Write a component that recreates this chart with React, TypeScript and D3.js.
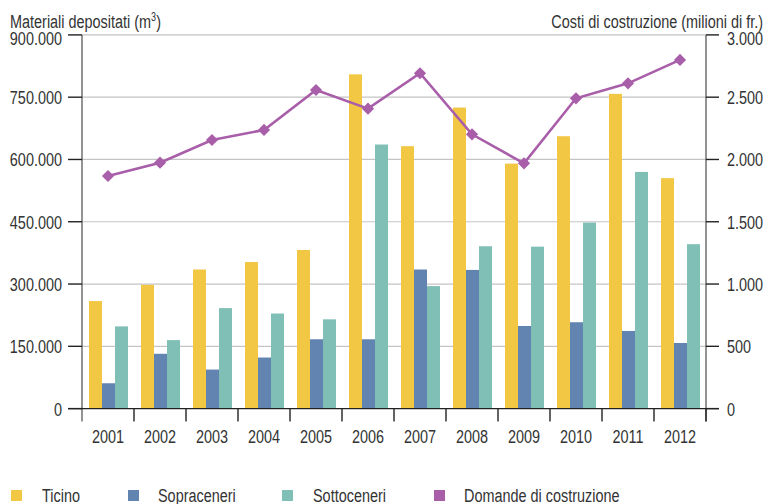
import React from "react";
import * as d3 from "d3";

const years = ["2001","2002","2003","2004","2005","2006","2007","2008","2009","2010","2011","2012"];
const ticino = [259000, 298000, 335000, 353000, 382000, 805000, 632000, 725000, 590000, 656000, 758000, 555000];
const sopraceneri = [61000, 132000, 94000, 123000, 167000, 167000, 335000, 334000, 199000, 208000, 187000, 158000];
const sottoceneri = [198000, 165000, 242000, 229000, 215000, 636000, 295000, 391000, 390000, 448000, 570000, 396000];
const domande = [1867, 1974, 2156, 2237, 2558, 2408, 2692, 2202, 1969, 2491, 2611, 2799];
const leftTicks = [0, 150000, 300000, 450000, 600000, 750000, 900000];
const rightTicks = [0, 500, 1000, 1500, 2000, 2500, 3000];
const seriesNames = ["Ticino", "Sopraceneri", "Sottoceneri", "Domande di costruzione"];
const colors = ["#F2C744", "#6284B0", "#80BFB6", "#A85EA8"];

const FONT = "'Liberation Sans', Arial, sans-serif";
const FS = 19;
const SX = 0.76;
const fmt = (v: number) => d3.format(",")(v).replace(/,/g, ".");

function T(props: { x: number; y: number; anchor?: string; children: React.ReactNode }) {
  return (
    <text
      transform={`translate(${props.x},${props.y}) scale(${SX},1)`}
      textAnchor={props.anchor || "start"}
      fontSize={FS}
      fill="#333"
    >
      {props.children}
    </text>
  );
}

export default function App() {
  const W = 768, H = 504;
  const left = 82, right = 706, top = 34.9, bottom = 408.6;
  const x = d3.scaleBand<string>().domain(years).range([left, right]).paddingInner(0).paddingOuter(0);
  const yL = d3.scaleLinear().domain([0, 900000]).range([bottom, top]);
  const yR = d3.scaleLinear().domain([0, 3000]).range([bottom, top]);
  const bw = x.bandwidth();
  const barW = 13;
  const off = 7;
  const bars = [ticino, sopraceneri, sottoceneri];
  const line = d3.line<number>()
    .x((_, i) => (x(years[i]) as number) + bw / 2)
    .y((d) => yR(d));
  const diamond = d3.symbol().type(d3.symbolSquare).size(74)() as string;
  const legendX = [11, 128, 282, 434];
  const legendTX = [42, 158, 313, 464];
  return (
    <svg width={W} height={H} style={{ position: "absolute", left: 0, top: 0, background: "#fff" }} fontFamily={FONT}>
      {leftTicks.slice(1).map((t) => (
        <line key={"g" + t} x1={left} x2={right} y1={yL(t)} y2={yL(t)} stroke="#c4c4c4" strokeWidth={1.2} />
      ))}
      {bars.map((s, si) =>
        s.map((v, i) => (
          <rect key={si + "-" + i} x={(x(years[i]) as number) + off + si * barW} y={yL(v)} width={barW} height={bottom - yL(v)} fill={colors[si]} />
        ))
      )}
      <path d={line(domande) as string} fill="none" stroke={colors[3]} strokeWidth={2.6} />
      {domande.map((v, i) => (
        <path key={"d" + i} d={diamond} transform={`translate(${(x(years[i]) as number) + bw / 2},${yR(v)}) rotate(45)`} fill={colors[3]} />
      ))}
      <line x1={left} x2={left} y1={top} y2={bottom + 13} stroke="#666" strokeWidth={1.4} />
      <line x1={right} x2={right} y1={top} y2={bottom + 13} stroke="#666" strokeWidth={1.4} />
      <line x1={68} x2={719} y1={bottom} y2={bottom} stroke="#222" strokeWidth={1.4} />
      {leftTicks.map((t, i) => (
        <g key={"l" + t}>
          <line x1={68} x2={left} y1={yL(t)} y2={yL(t)} stroke="#222" strokeWidth={1.4} />
          <T x={62} y={i === leftTicks.length - 1 ? 44.5 : yL(t) + 7} anchor="end">{fmt(t)}</T>
        </g>
      ))}
      {rightTicks.map((t, i) => (
        <g key={"r" + t}>
          <line x1={right} x2={719} y1={yR(t)} y2={yR(t)} stroke="#222" strokeWidth={1.4} />
          <T x={727} y={i === rightTicks.length - 1 ? 45 : yR(t) + 7}>{fmt(t)}</T>
        </g>
      ))}
      {years.map((yr) => (
        <g key={"x" + yr}>
          <line x1={(x(yr) as number) + bw} x2={(x(yr) as number) + bw} y1={bottom} y2={bottom + 13} stroke="#222" strokeWidth={1.4} />
          <T x={(x(yr) as number) + bw / 2} y={443} anchor="middle">{yr}</T>
        </g>
      ))}
      <T x={10} y={28}>
        Materiali depositati (m<tspan dy={-7} fontSize={12}>3</tspan><tspan dy={7}>)</tspan>
      </T>
      <T x={763} y={28} anchor="end">Costi di costruzione (milioni di fr.)</T>
      {seriesNames.map((n, i) => (
        <g key={"lg" + i}>
          <rect x={legendX[i]} y={490} width={11} height={11} fill={colors[i]} />
          <T x={legendTX[i]} y={502}>{n}</T>
        </g>
      ))}
    </svg>
  );
}
